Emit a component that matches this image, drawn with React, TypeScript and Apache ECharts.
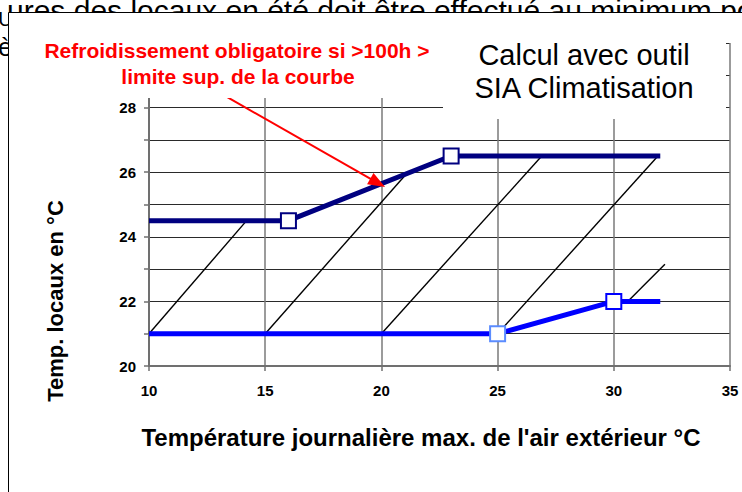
import React, { useEffect, useRef } from "react";
import * as echarts from "echarts";

// ---- data ----
const xMin = 10;
const xMax = 35;
const xStep = 5;
const yMin = 20;
const yMax = 30;
const yStep = 1;
const yLabelMax = 28;

// upper comfort limit (dark blue)
const upperX = [10, 16, 23, 32];
const upperY = [24.5, 24.5, 26.5, 26.5];
const upperMarked = [false, true, true, false];

// lower limit (blue)
const lowerX = [10, 25, 30, 32];
const lowerY = [21, 21, 22, 22];
const lowerMarked = [false, true, true, false];
const lowerMarkerBorder = ["#0000ff", "#5b8cff", "#0000ff", "#0000ff"];

// thin black diagonal lines
const diagStartX = [10, 15, 20, 25, 30.6];
const diagStartY = [21, 21, 21, 21, 22];
const diagEndX = [14.2, 21.1, 26.9, 31.9, 32.2];
const diagEndY = [24.5, 25.97, 26.5, 26.5, 23.15];

// red arrow (data coordinates)
const arrowFrom = [13.35, 28.33];
const arrowTo = [19.84, 25.67];

// texts
const docTopLine = "ures des locaux en été doit être effectué au minimum po";
const docLeft1 = "U";
const docLeft2 = "è";
const redNote1 = "Refroidissement obligatoire si >100h >";
const redNote2 = "limite sup. de la courbe";
const boxTitle1 = "Calcul avec outil";
const boxTitle2 = "SIA Climatisation";
const xTitle = "Température journalière max. de l'air extérieur °C";
const yTitle = "Temp. locaux en °C";

const FONT = "'Liberation Sans', Arial, Helvetica, sans-serif";

export default function App() {
  const ref = useRef<HTMLDivElement>(null);

  useEffect(() => {
    if (!ref.current) return;
    const chart = echarts.init(ref.current, undefined, { renderer: "svg" });

    const upperData = upperX.map((x, i) =>
      upperMarked[i]
        ? {
            value: [x, upperY[i]],
            symbol: "rect",
            symbolSize: 15,
            itemStyle: { color: "#ffffff", borderColor: "#000080", borderWidth: 2 },
          }
        : { value: [x, upperY[i]], symbol: "none" }
    );
    const lowerData = lowerX.map((x, i) =>
      lowerMarked[i]
        ? {
            value: [x, lowerY[i]],
            symbol: "rect",
            symbolSize: 15,
            itemStyle: { color: "#ffffff", borderColor: lowerMarkerBorder[i], borderWidth: 2 },
          }
        : { value: [x, lowerY[i]], symbol: "none" }
    );

    const diagSeries = diagStartX.map((x0, i) => ({
      type: "line",
      data: [
        [x0, diagStartY[i]],
        [diagEndX[i], diagEndY[i]],
      ],
      showSymbol: false,
      symbol: "none",
      silent: true,
      z: 2,
      lineStyle: { color: "#000000", width: 1.4 },
    }));

    chart.setOption({
      animation: false,
      backgroundColor: "transparent",
      grid: { left: 149, right: 12, top: 43, bottom: 126, containLabel: false },
      xAxis: {
        type: "value",
        min: xMin,
        max: xMax,
        interval: xStep,
        axisLine: { show: true, onZero: false, lineStyle: { color: "#707070", width: 2 } },
        axisTick: { show: true, length: 5, lineStyle: { color: "#707070", width: 1.5 } },
        axisLabel: {
          margin: 17,
          color: "#000",
          fontFamily: FONT,
          fontWeight: "bold",
          fontSize: 15,
        },
        splitLine: { show: true, lineStyle: { color: "#7a7a7a", width: 1.5 } },
      },
      yAxis: {
        type: "value",
        min: yMin,
        max: yMax,
        interval: yStep,
        axisLine: { show: true, onZero: false, lineStyle: { color: "#707070", width: 2 } },
        axisTick: { show: true, length: 5, lineStyle: { color: "#707070", width: 1.5 } },
        axisLabel: {
          margin: 13,
          color: "#000",
          fontFamily: FONT,
          fontWeight: "bold",
          fontSize: 15,
          formatter: (v: number) => (v % 2 === 0 && v <= yLabelMax ? String(v) : ""),
        },
        splitLine: { show: true, lineStyle: { color: "#2a2a2a", width: 1 } },
      },
      series: [
        ...diagSeries,
        {
          type: "line",
          data: lowerData,
          z: 3,
          silent: true,
          lineStyle: { color: "#0000ff", width: 5 },
          itemStyle: { color: "#0000ff" },
        },
        {
          type: "line",
          data: upperData,
          z: 4,
          silent: true,
          lineStyle: { color: "#000080", width: 5 },
          itemStyle: { color: "#000080" },
          markLine: {
            silent: true,
            symbol: ["none", "triangle"],
            symbolSize: [13, 17],
            label: { show: false },
            lineStyle: { color: "#ff0000", width: 2, type: "solid" },
            data: [[{ coord: arrowFrom }, { coord: arrowTo }]],
          },
        },
      ],
      graphic: [
        // background document text
        {
          type: "text",
          z: -3,
          style: { text: docTopLine, x: 7, y: 10, fill: "#000", font: `30px ${FONT}`, verticalAlign: "middle" },
        },
        {
          type: "text",
          z: -3,
          style: { text: docLeft1, x: -2, y: 18, fill: "#000", font: `21px ${FONT}`, verticalAlign: "middle" },
        },
        {
          type: "text",
          z: -3,
          style: { text: docLeft2, x: -2, y: 47, fill: "#000", font: `26px ${FONT}`, verticalAlign: "middle" },
        },
        // chart frame
        {
          type: "rect",
          z: -2,
          shape: { x: 8.5, y: 12.5, width: 900, height: 700 },
          style: { fill: "#ffffff", stroke: "#000000", lineWidth: 1 },
        },
        // white text boxes
        {
          type: "rect",
          z: 10,
          shape: { x: 9, y: 13, width: 434, height: 85 },
          style: { fill: "#ffffff" },
        },
        {
          type: "rect",
          z: 10,
          shape: { x: 443, y: 13, width: 283, height: 106 },
          style: { fill: "#ffffff" },
        },
        {
          type: "text",
          z: 11,
          style: { text: redNote1, x: 237, y: 50, fill: "#ff0000", font: `bold 21px ${FONT}`, align: "center", verticalAlign: "middle" },
        },
        {
          type: "text",
          z: 11,
          style: { text: redNote2, x: 238, y: 76, fill: "#ff0000", font: `bold 21px ${FONT}`, align: "center", verticalAlign: "middle" },
        },
        {
          type: "text",
          z: 11,
          style: { text: boxTitle1, x: 584, y: 55, fill: "#000", font: `29px ${FONT}`, align: "center", verticalAlign: "middle" },
        },
        {
          type: "text",
          z: 11,
          style: { text: boxTitle2, x: 584, y: 88, fill: "#000", font: `29px ${FONT}`, align: "center", verticalAlign: "middle" },
        },
        // axis titles
        {
          type: "text",
          z: 11,
          style: { text: xTitle, x: 421, y: 437, fill: "#000", font: `bold 24px ${FONT}`, align: "center", verticalAlign: "middle" },
        },
        {
          type: "text",
          z: 11,
          x: 55,
          y: 301,
          rotation: Math.PI / 2,
          style: { text: yTitle, x: 0, y: 0, fill: "#000", font: `bold 22px ${FONT}`, align: "center", verticalAlign: "middle" },
        },
      ],
    });

    return () => chart.dispose();
  }, []);

  return (
    <div
      ref={ref}
      style={{ position: "fixed", left: 0, top: 0, width: 742, height: 492, background: "#fff" }}
    />
  );
}
